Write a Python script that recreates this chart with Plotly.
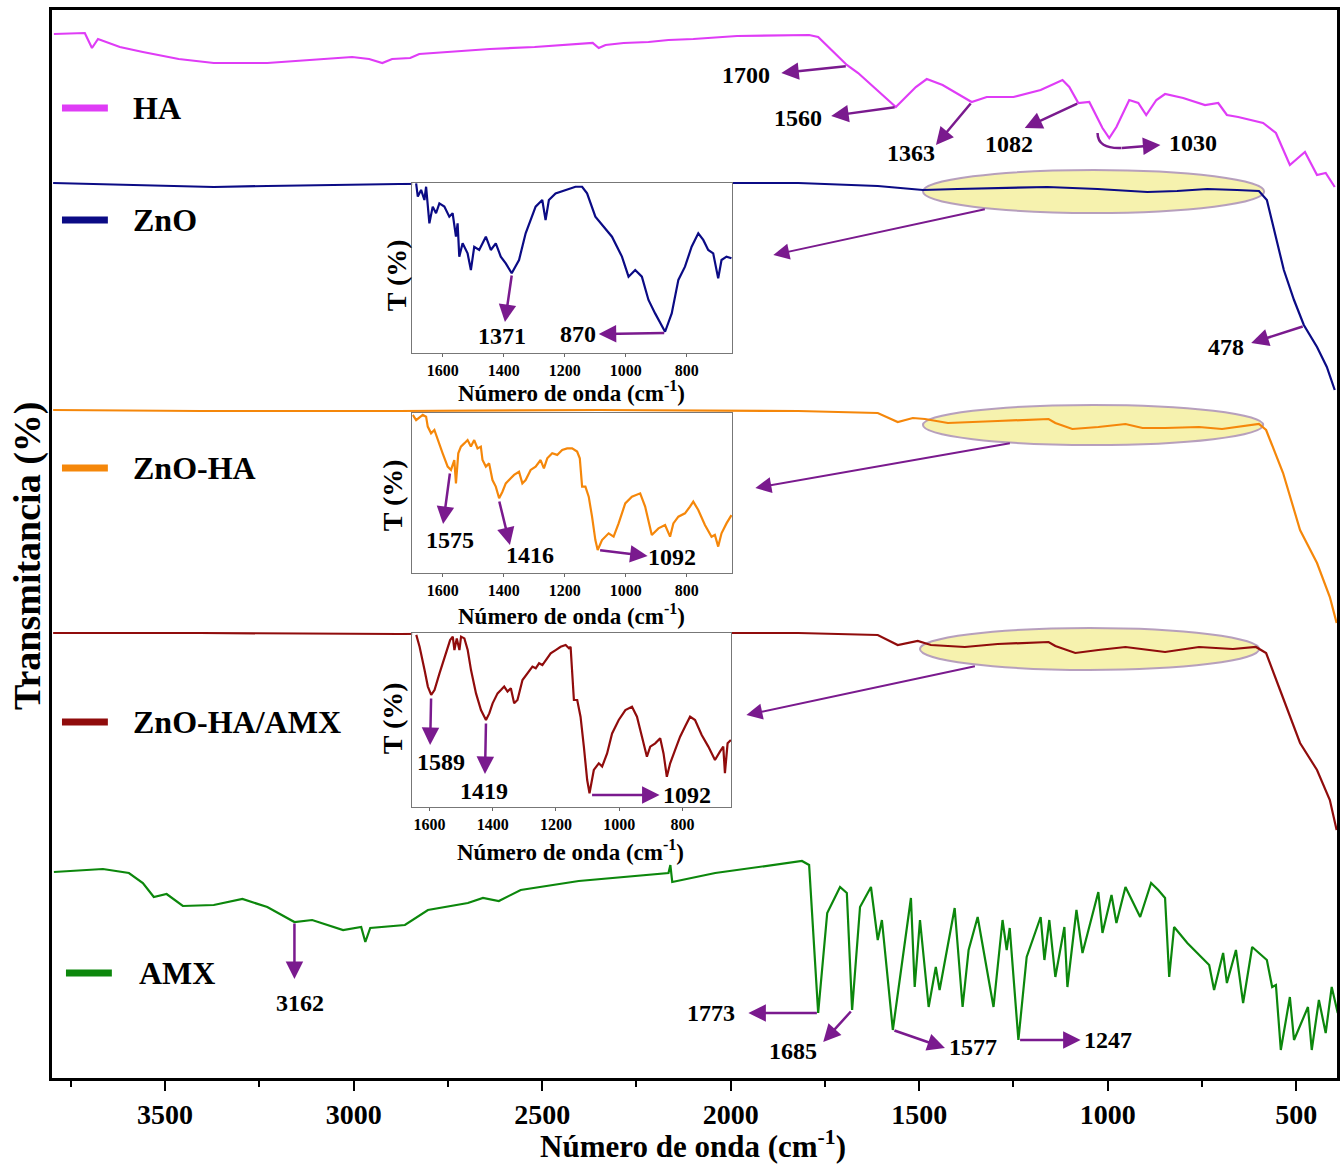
import plotly.graph_objects as go

# ---------------- DATA (wavenumber in cm-1, transmittance in offset arbitrary units) ----------------
ha_wn = [3795, 3713, 3694, 3678, 3620, 3559, 3464, 3371, 3229, 3112, 3004, 2959, 2924, 2898, 2850, 2826,
         2758, 2639, 2520, 2403, 2366, 2350, 2332, 2284, 2218, 2165, 2099, 1983, 1792, 1768, 1723, 1692,
         1662, 1562, 1509, 1480, 1438, 1361, 1321, 1250, 1178, 1120, 1102, 1078, 1049, 1014, 996, 977,
         943, 919, 898, 871, 848, 800, 742, 707, 684, 654, 588, 554, 517, 477, 445, 422, 398]
ha_t = [104.4, 104.5, 103.0, 103.9, 103.1, 102.6, 101.9, 101.5, 101.5, 101.8, 102.1, 101.9, 101.5, 101.9,
        102.0, 102.4, 102.6, 102.9, 103.1, 103.4, 103.5, 103.0, 103.3, 103.5, 103.6, 103.8, 103.9, 104.2,
        104.3, 104.1, 102.5, 101.3, 100.5, 97.1, 99.1, 99.9, 99.3, 97.6, 98.1, 98.1, 98.8, 99.8, 99.1, 97.5,
        97.6, 95.0, 94.0, 95.1, 97.8, 97.5, 96.3, 97.8, 98.4, 98.0, 97.3, 97.5, 96.3, 96.1, 95.5, 94.5,
        91.3, 92.6, 90.3, 90.5, 89.1]

zno_wn = [3797, 3700, 3620, 3371, 3229, 2879, 2350, 1821, 1610, 1490, 1398, 1292, 1160, 1027, 895, 816,
          736, 657, 599, 578, 559, 533, 506, 480, 445, 419, 398]
zno_t = [89.5, 89.4, 89.3, 89.1, 89.2, 89.4, 89.5, 89.5, 89.2, 88.8, 88.9, 89.0, 89.1, 88.9, 88.6, 88.7,
         88.9, 88.8, 88.7, 87.8, 84.8, 80.8, 77.8, 75.3, 73.1, 71.1, 68.8]

znoha_wn = [3797, 3408, 2879, 2350, 1821, 1610, 1557, 1517, 1485, 1424, 1292, 1157, 1139, 1094, 1025, 953,
            908, 848, 758, 697, 599, 580, 535, 490, 445, 411, 393]
znoha_t = [66.8, 66.7, 66.7, 66.8, 66.7, 66.5, 65.6, 66.0, 65.9, 65.5, 65.7, 65.9, 65.5, 64.9, 65.1, 65.4,
           65.0, 65.0, 65.1, 64.9, 65.4, 64.8, 60.5, 54.8, 51.5, 48.1, 45.5]

znohaamx_wn = [3797, 3408, 2879, 2350, 1821, 1610, 1557, 1504, 1469, 1379, 1292, 1157, 1139, 1086, 1025,
               953, 890, 848, 758, 668, 607, 580, 543, 490, 445, 411, 393]
znohaamx_t = [44.5, 44.5, 44.4, 44.5, 44.5, 44.3, 43.3, 43.7, 43.3, 43.1, 43.4, 43.6, 43.2, 42.5, 42.8,
              43.1, 42.8, 42.6, 43.1, 42.9, 43.1, 42.5, 38.8, 33.5, 30.8, 27.8, 24.8]

amx_wn = [3795, 3665, 3596, 3559, 3530, 3496, 3453, 3371, 3295, 3229, 3157, 3110, 3028, 2980, 2969, 2956,
          2864, 2803, 2697, 2657, 2615, 2557, 2403, 2284, 2218, 2165, 2160, 2155, 2041, 1922, 1811, 1792,
          1768, 1744, 1710, 1692, 1678, 1657, 1628, 1610, 1599, 1570, 1522, 1512, 1498, 1475, 1456, 1446,
          1406, 1385, 1369, 1345, 1303, 1279, 1268, 1260, 1237, 1215, 1178, 1168, 1155, 1139, 1115, 1107,
          1083, 1067, 1025, 1014, 990, 977, 953, 914, 885, 866, 848, 837, 824, 789, 731, 718, 694, 684,
          660, 641, 617, 578, 564, 554, 541, 517, 506, 469, 459, 440, 422, 406, 390]
amx_t = [20.6, 20.9, 20.5, 19.5, 18.1, 18.4, 17.2, 17.3, 17.9, 17.1, 15.6, 15.8, 14.8, 15.1, 13.6, 15.0,
         15.3, 16.8, 17.5, 18.0, 17.7, 18.8, 19.7, 20.1, 20.3, 20.5, 21.3, 19.6, 20.5, 21.1, 21.7, 21.3,
         6.5, 16.5, 19.1, 18.5, 6.8, 17.1, 19.1, 13.8, 15.8, 4.8, 18.0, 9.1, 15.8, 7.1, 11.1, 8.8,
         17.0, 7.1, 12.8, 16.1, 7.1, 15.8, 12.8, 15.0, 3.8, 12.1, 16.1, 11.8, 15.8, 10.1, 15.1, 9.1,
         16.8, 12.5, 18.6, 14.5, 18.3, 15.5, 19.1, 16.1, 19.5, 18.8, 18.0, 10.1, 15.1, 13.5, 11.3, 8.8,
         12.5, 9.5, 12.8, 7.5, 13.1, 11.8, 9.1, 9.3, 2.8, 8.1, 3.8, 7.1, 2.8, 7.8, 4.5, 9.1, 6.5]

# Inset spectra (1700-650 cm-1 region)
ins1_wn = [1687, 1681.5, 1670.7, 1659.8, 1654.3, 1648.9, 1643.5, 1632.6, 1621.7, 1610.8, 1594.5, 1578.2,
           1567.3, 1556.4, 1551, 1545.5, 1534.6, 1518.3, 1507.4, 1496.5, 1480.2, 1458.4, 1442.1, 1425.8,
           1409.5, 1393.1, 1373.6, 1349.6, 1327.9, 1295.2, 1273.4, 1262.6, 1251.7, 1229.9, 1197.3, 1164.6,
           1142.8, 1126.5, 1099.3, 1044.9, 1012.2, 990.5, 968.7, 946.9, 925.2, 903.4, 870.8, 849, 827.2,
           805.5, 783.7, 761.9, 745.6, 729.3, 713, 696.6, 685.7, 669.4, 653.1]
ins1_t = [99.8, 92.0, 95.9, 90.0, 97.8, 86.1, 76.3, 86.1, 82.2, 88.0, 86.1, 80.2, 82.2, 68.4, 76.3, 56.7,
          64.5, 58.6, 48.8, 62.5, 60.6, 68.4, 60.6, 64.5, 56.7, 52.7, 46.9, 54.7, 70.4, 86.1, 90.0, 78.2,
          90.0, 93.9, 95.9, 97.8, 97.8, 93.9, 80.2, 68.4, 56.7, 44.9, 48.8, 44.9, 31.2, 23.3, 12.5, 23.3,
          43.0, 50.8, 62.5, 70.4, 66.5, 60.6, 58.6, 43.9, 54.7, 56.7, 55.7]

ins2_wn = [1697.9, 1687, 1665.2, 1654.3, 1648.9, 1638, 1627.1, 1616.3, 1600, 1583.6, 1572.7, 1561.8, 1556.4,
           1548.8, 1540.1, 1529.2, 1518.3, 1507.4, 1496.5, 1485.7, 1474.8, 1469.3, 1458.4, 1447.6, 1436.7,
           1425.8, 1414.9, 1404, 1393.1, 1376.8, 1365.9, 1349.6, 1338.7, 1327.9, 1311.5, 1295.2, 1278.9,
           1268, 1257.1, 1240.8, 1224.5, 1208.1, 1191.8, 1175.5, 1159.2, 1150.4, 1142.8, 1132, 1121.1,
           1110.2, 1099.3, 1091.7, 1077.5, 1055.8, 1039.5, 1023.1, 1001.4, 979.6, 952.4, 936.1, 914.3,
           892.5, 870.8, 854.4, 843.6, 827.2, 805.5, 789.1, 778.3, 761.9, 740.1, 718.4, 707.5, 696.6,
           685.7, 669.4, 653.1]
ins2_t = [98.8, 95.6, 98.8, 97.7, 91.5, 87.3, 89.4, 83.1, 74.8, 66.5, 64.4, 70.6, 56.0, 74.8, 79.0, 81.0,
          83.1, 79.0, 83.1, 77.9, 79.0, 70.6, 66.5, 68.5, 58.1, 54.0, 46.7, 50.8, 56.0, 59.2, 61.3, 63.3,
          56.0, 58.1, 64.4, 66.5, 70.6, 65.4, 71.7, 74.8, 73.8, 76.9, 77.9, 77.9, 75.9, 71.7, 54.0, 54.0,
          47.7, 35.2, 20.6, 14.4, 20.6, 24.8, 22.7, 31.0, 43.5, 47.7, 49.8, 41.5, 23.8, 27.9, 30.0, 22.7,
          31.0, 35.2, 37.3, 41.5, 44.6, 39.4, 30.0, 22.7, 23.8, 16.5, 24.8, 31.0, 36.2]

ins3_wn = [1642, 1631.5, 1615.8, 1605.3, 1594.8, 1584.3, 1568.5, 1547.5, 1534.9, 1526.5, 1521.3, 1513.9,
           1505.5, 1500.3, 1489.8, 1479.3, 1468.8, 1453, 1437.3, 1421.5, 1411, 1400.5, 1384.8, 1374.3,
           1363.8, 1353.3, 1342.8, 1332.3, 1321.8, 1306, 1290.3, 1274.5, 1264, 1253.5, 1243, 1232.5,
           1216.8, 1201, 1185.3, 1169.5, 1159, 1153.8, 1143.3, 1132.8, 1122.3, 1111.8, 1101.3, 1093.9,
           1080.3, 1064.5, 1054, 1038.3, 1022.5, 1001.5, 980.5, 959.5, 943.8, 928, 912.3, 901.8, 886,
           870.3, 859.8, 849.3, 838.8, 823, 807.3, 791.5, 775.8, 760, 739, 718, 697, 681.3, 670.8, 665.5,
           657.1, 646.6]
ins3_t = [98.9, 92.1, 78.7, 69.2, 64.4, 67.2, 76.8, 88.3, 95.9, 97.9, 90.2, 96.9, 90.2, 97.9, 96.9, 90.2,
          78.7, 65.3, 55.7, 50.0, 53.8, 59.6, 65.3, 67.2, 69.2, 66.3, 68.2, 59.6, 61.5, 73.0, 76.8, 80.7,
          79.7, 82.6, 81.6, 84.5, 88.3, 90.2, 92.1, 93.1, 91.2, 92.1, 61.5, 61.5, 51.9, 34.7, 15.5, 7.9,
          21.3, 25.1, 23.2, 30.8, 42.3, 50.0, 55.7, 57.6, 51.9, 40.4, 28.9, 34.7, 36.6, 39.5, 30.8, 17.4,
          25.1, 32.8, 40.4, 46.2, 51.9, 50.0, 41.4, 34.7, 27.0, 31.8, 34.7, 19.5, 36.6, 38.5]

series_names = ["HA", "ZnO", "ZnO-HA", "ZnO-HA/AMX", "AMX"]
series_colors = ["#DF3CF6", "#0B0B85", "#F5870A", "#900C0C", "#0C870C"]
main_ticks = [3500, 3000, 2500, 2000, 1500, 1000, 500]
inset_ticks = [1600, 1400, 1200, 1000, 800]

ha_peaks = ["1700", "1560", "1363", "1082", "1030"]
zno_peaks = ["478", "1371", "870"]
znoha_peaks = ["1575", "1416", "1092"]
znohaamx_peaks = ["1589", "1419", "1092"]
amx_peaks = ["3162", "1773", "1685", "1577", "1247"]

# ---------------- LAYOUT HELPERS ----------------
W, H = 1344, 1165
L, R, T, B = 52, 4, 10, 87
PW, PH = W - L - R, H - T - B
FONT = "Liberation Serif, Times New Roman, serif"
ARROW = "#7A1A8E"


def fx(x):
    return (x - L) / PW


def fy(y):
    return (T + PH - y) / PH


fig = go.Figure()

main_data = [(ha_wn, ha_t), (zno_wn, zno_t), (znoha_wn, znoha_t), (znohaamx_wn, znohaamx_t), (amx_wn, amx_t)]
for (wn, tt), name, col in zip(main_data, series_names, series_colors):
    fig.add_trace(go.Scatter(x=wn, y=tt, mode="lines", name=name, line=dict(color=col, width=2.2),
                             xaxis="x", yaxis="y", showlegend=False))

inset_data = [(ins1_wn, ins1_t, series_colors[1]), (ins2_wn, ins2_t, series_colors[2]),
              (ins3_wn, ins3_t, series_colors[3])]
for i, (wn, tt, col) in enumerate(inset_data):
    fig.add_trace(go.Scatter(x=wn, y=tt, mode="lines", line=dict(color=col, width=2.2),
                             xaxis="x%d" % (i + 2), yaxis="y%d" % (i + 2), showlegend=False))

ann = []
shapes = []


def txt(s, x, y, size=24, **kw):
    ann.append(dict(text=s, x=fx(x), y=fy(y), xref="paper", yref="paper", showarrow=False,
                    xanchor="center", yanchor="middle",
                    font=dict(family=FONT, size=size, color="black", weight="bold"), **kw))


def arrow(tail, head, width=2.5, size=1.4):
    ann.append(dict(text="", x=fx(head[0]), y=fy(head[1]), xref="paper", yref="paper",
                    ax=tail[0] - head[0], ay=tail[1] - head[1], showarrow=True,
                    arrowhead=2, arrowsize=size, arrowwidth=width, arrowcolor=ARROW, standoff=0))


# Legend (drawn inside plot)
legend_pos = [(62, 108, 131), (62, 220, 131), (62, 468, 131), (62, 722, 131), (66, 973, 137)]
for (lx, ly, tx), name, col in zip(legend_pos, series_names, series_colors):
    shapes.append(dict(type="line", xref="paper", yref="paper", x0=fx(lx), x1=fx(lx + 46), y0=fy(ly), y1=fy(ly),
                       line=dict(color=col, width=7)))
    ann.append(dict(text=name, x=fx(tx), y=fy(ly), xref="paper", yref="paper", showarrow=False,
                    xanchor="left", yanchor="middle", font=dict(family=FONT, size=32, color="black", weight="bold")))

# Ellipses highlighting the zoomed regions
ell = [(925, 1267, 170, 213), (925, 1266, 405, 445), (922, 1262, 628, 670)]
for x0, x1, y0, y1 in ell:
    shapes.append(dict(type="circle", xref="paper", yref="paper", x0=fx(x0), x1=fx(x1), y0=fy(y1), y1=fy(y0),
                       fillcolor="rgba(245,240,160,0.85)", line=dict(color="rgba(175,150,185,0.9)", width=2),
                       layer="below"))
# arrows from ellipses to insets
arrow((988, 209), (775, 255), width=2, size=1.6)
arrow((1013, 443), (757, 488), width=2, size=1.6)
arrow((978, 666), (748, 715), width=2, size=1.6)

# HA annotations
arrow((849, 66), (783, 73)); txt(ha_peaks[0], 748, 75)
arrow((898, 107), (833, 116)); txt(ha_peaks[1], 800, 118)
arrow((974, 102), (938, 145)); txt(ha_peaks[2], 913, 153)
arrow((1081, 103), (1027, 128)); txt(ha_peaks[3], 1011, 144)
shapes.append(dict(type="path", xref="paper", yref="paper",
                   path="M %f,%f Q %f,%f %f,%f" % (fx(1100), fy(133), fx(1100), fy(149), fx(1124), fy(148)),
                   line=dict(color=ARROW, width=2.5)))
arrow((1123, 148), (1163, 145)); txt(ha_peaks[4], 1196, 143)
# ZnO
arrow((1307, 326), (1254, 343)); txt(zno_peaks[0], 1229, 347)
arrow((513, 274), (506, 322)); txt(zno_peaks[1], 503, 336)
arrow((667, 333), (600, 334)); txt(zno_peaks[2], 579, 334)
# ZnO-HA
arrow((451, 472), (444, 524)); txt(znoha_peaks[0], 451, 540)
arrow((500, 500), (511, 545)); txt(znoha_peaks[1], 531, 555)
arrow((600, 550), (649, 556)); txt(znoha_peaks[2], 673, 557)
# ZnO-HA/AMX
arrow((432, 697), (431, 745)); txt(znohaamx_peaks[0], 442, 762)
arrow((487, 722), (486, 774)); txt(znohaamx_peaks[1], 485, 791)
arrow((592, 795), (661, 795)); txt(znohaamx_peaks[2], 688, 795)
# AMX
arrow((295, 922), (295, 979)); txt(amx_peaks[0], 301, 1003)
arrow((820, 1013), (750, 1013)); txt(amx_peaks[1], 713, 1013)
arrow((854, 1010), (825, 1042)); txt(amx_peaks[2], 795, 1051)
arrow((895, 1030), (947, 1048)); txt(amx_peaks[3], 975, 1047)
arrow((1021, 1040), (1083, 1040)); txt(amx_peaks[4], 1110, 1040)

# Titles
txt("Número de onda (cm<sup>-1</sup>)", 694, 1144, size=31)
txt("Transmitancia (%)", 27, 556, size=38, textangle=-90)
for cx, cy in [(573, 391), (573, 614), (572, 850)]:
    txt("Número de onda (cm<sup>-1</sup>)", cx, cy, size=23)
for cx, cy in [(397, 275), (393, 495), (393, 718)]:
    txt("T (%)", cx, cy, size=28, textangle=-90)

main_axis_common = dict(showgrid=False, zeroline=False, showline=True, mirror=True, linecolor="black",
                        linewidth=2.5)

layout = dict(
    width=W, height=H, margin=dict(l=L, r=R, t=T, b=B), paper_bgcolor="white", plot_bgcolor="white",
    showlegend=False, annotations=ann, shapes=shapes,
    xaxis=dict(range=[3800, 392], tickvals=main_ticks, ticks="outside", ticklen=10, tickwidth=2,
               tickcolor="black",
               minor=dict(tickvals=[3750, 3250, 2750, 2250, 1750, 1250, 750], ticks="outside", ticklen=6,
                          tickwidth=2, tickcolor="black"),
               tickfont=dict(family=FONT, size=28, color="black", weight="bold"), **main_axis_common),
    yaxis=dict(range=[0, 106.8], showticklabels=False, ticks="", **main_axis_common),
)

inset_dom = [([413, 734], [183, 353], [1700, 650]),
             ([413, 734], [413, 573], [1700, 650]),
             ([413, 733], [633, 807], [1655, 645])]
for i, (xd, yd, xr) in enumerate(inset_dom):
    n = i + 2
    layout["xaxis%d" % n] = dict(domain=[fx(xd[0]), fx(xd[1])], anchor="y%d" % n, range=xr,
                                 tickvals=inset_ticks, ticks="outside", ticklen=3, tickcolor="#666",
                                 showgrid=False, zeroline=False, showline=True, mirror=True,
                                 linecolor="#777", linewidth=1,
                                 tickfont=dict(family=FONT, size=16, color="black", weight="bold"))
    layout["yaxis%d" % n] = dict(domain=[fy(yd[1]), fy(yd[0])], anchor="x%d" % n, range=[0, 100],
                                 showticklabels=False, ticks="", showgrid=False, zeroline=False,
                                 showline=True, mirror=True, linecolor="#777", linewidth=1)

fig.update_layout(**layout)
fig.write_html("out.html", config={"displayModeBar": False},
               post_script="document.body.style.margin='0';")
